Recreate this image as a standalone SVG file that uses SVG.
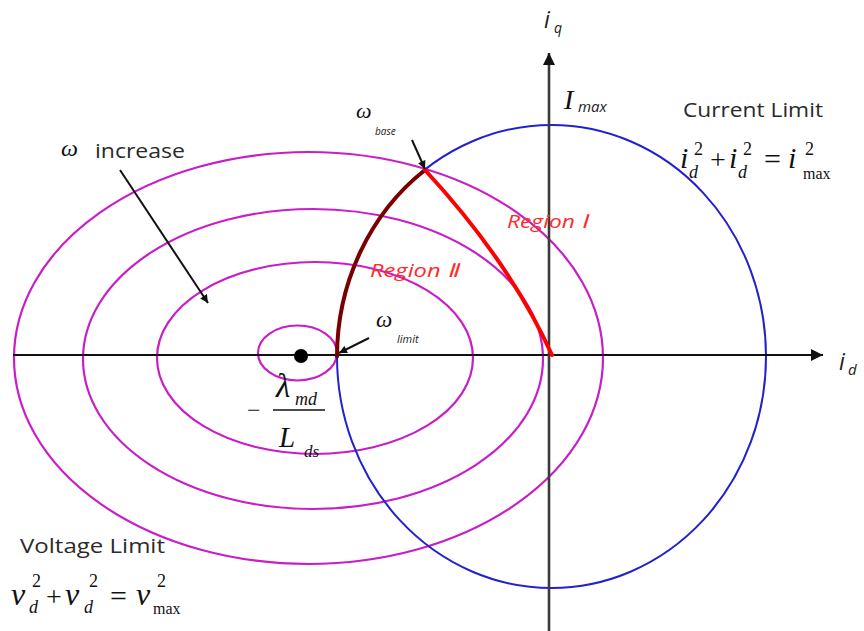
<svg xmlns="http://www.w3.org/2000/svg" width="864" height="631" viewBox="0 0 864 631">
<defs>
<style>
.ell{fill:none;stroke:#c81ec8;stroke-width:2.2}
.cur{fill:none;stroke:#2222cc;stroke-width:2}
.ax{fill:none;stroke:#111;stroke-width:2}
.ptr{fill:none;stroke:#111;stroke-width:2}
.lbl{font-family:"Open Sans","Liberation Sans",sans-serif;fill:#2a2a2a}
.reg{font-family:"Open Sans","Liberation Sans",sans-serif;font-style:italic;fill:#ff2a2a}
.m{font-family:"Liberation Serif","DejaVu Serif",serif;fill:#111}
.mi{font-family:"Liberation Serif","DejaVu Serif",serif;font-style:italic;fill:#111}
.si{font-family:"Open Sans","Liberation Sans",sans-serif;font-style:italic;fill:#222}
</style>
<marker id="axh" viewBox="0 0 10 10" refX="10" refY="5" markerWidth="13" markerHeight="12" markerUnits="userSpaceOnUse" orient="auto">
<path d="M0,0 L10,5 L0,10 z" fill="#111"/>
</marker>
<marker id="ph" viewBox="0 0 10 10" refX="10" refY="5" markerWidth="9" markerHeight="8" markerUnits="userSpaceOnUse" orient="auto">
<path d="M0,0 L10,5 L0,10 z" fill="#111"/>
</marker>
</defs>
<rect width="864" height="631" fill="#fff"/>

<g id="voltage-ellipses">
<ellipse class="ell" cx="308.5" cy="358" rx="294.5" ry="206"/>
<ellipse class="ell" cx="313" cy="359" rx="230" ry="150"/>
<ellipse class="ell" cx="315" cy="358" rx="158" ry="96"/>
<ellipse class="ell" cx="297.5" cy="353" rx="39.5" ry="27.5"/>
</g>

<g id="current-circle">
<ellipse class="cur" cx="551.5" cy="356.5" rx="214.5" ry="231.5"/>
</g>

<g id="axes">
<line class="ax" x1="13" y1="355" x2="823" y2="355" marker-end="url(#axh)"/>
<line x1="549" y1="631" x2="549" y2="53" stroke="#3a3a3a" stroke-width="2.6" marker-end="url(#axh)"/>
</g>

<g id="region-curves">
<path d="M337,356.5 A214.5,231.5 0 0 1 425,170" fill="none" stroke="#7a0000" stroke-width="4" stroke-linecap="round"/>
<path d="M425,170 Q510,262 552,355" fill="none" stroke="#ff0000" stroke-width="4" stroke-linecap="round"/>
</g>

<g id="center-point">
<circle cx="301" cy="356" r="7" fill="#000"/>
</g>

<g id="connectors">
<line class="ptr" x1="120" y1="170" x2="208" y2="303" marker-end="url(#ph)"/>
<line class="ptr" x1="412" y1="140" x2="425" y2="169" marker-end="url(#ph)"/>
<line class="ptr" x1="369" y1="338" x2="339" y2="353" marker-end="url(#ph)"/>
</g>

<g id="label-iq">
<text class="si" x="544" y="28" font-size="23">i</text>
<text class="si" x="554" y="33" font-size="14">q</text>
</g>
<g id="label-id">
<text class="si" x="839" y="370" font-size="23">i</text>
<text class="si" x="848" y="375" font-size="15">d</text>
</g>
<g id="label-imax">
<text class="mi" x="564" y="109" font-size="28">I</text>
<text class="si" x="578" y="112" font-size="15">max</text>
</g>

<g id="label-omega-increase">
<text class="mi" x="61" y="156" font-size="24">ω</text>
<text class="lbl" x="95" y="158" font-size="20" textLength="90" lengthAdjust="spacingAndGlyphs">increase</text>
</g>

<g id="label-omega-base">
<text class="mi" x="356" y="118" font-size="22">ω</text>
<text class="si" x="375" y="135" font-size="10">base</text>
</g>

<g id="label-omega-limit">
<text class="mi" x="376" y="327" font-size="23">ω</text>
<text class="si" x="397" y="343" font-size="11">limit</text>
</g>

<g id="label-regions">
<text class="reg" x="507" y="228" font-size="19" textLength="81" lengthAdjust="spacingAndGlyphs">Region Ⅰ</text>
<text class="reg" x="370" y="277" font-size="19" textLength="88" lengthAdjust="spacingAndGlyphs">Region Ⅱ</text>
</g>

<g id="label-fraction">
<text class="m" x="247" y="418" font-size="24">−</text>
<line x1="273" y1="410" x2="325" y2="410" stroke="#111" stroke-width="1.5"/>
<text class="mi" x="276" y="397" font-size="33">λ</text>
<text class="mi" x="295" y="405" font-size="18">md</text>
<text class="mi" x="279" y="447" font-size="29">L</text>
<text class="mi" x="304" y="457" font-size="17">ds</text>
</g>

<g id="label-current-limit">
<text class="lbl" x="683" y="117" font-size="20" textLength="140" lengthAdjust="spacingAndGlyphs">Current Limit</text>
<text class="mi" x="680" y="168" font-size="30">i</text>
<text class="m" x="694" y="155" font-size="18">2</text>
<text class="mi" x="689" y="178" font-size="18">d</text>
<text class="m" x="710" y="169" font-size="28">+</text>
<text class="mi" x="729" y="168" font-size="30">i</text>
<text class="m" x="743" y="155" font-size="18">2</text>
<text class="mi" x="738" y="178" font-size="18">d</text>
<text class="m" x="764" y="169" font-size="30">=</text>
<text class="mi" x="788" y="168" font-size="30">i</text>
<text class="m" x="805" y="155" font-size="18">2</text>
<text class="m" x="803" y="179" font-size="16">max</text>
</g>

<g id="label-voltage-limit">
<text class="lbl" x="20" y="553" font-size="20" textLength="145" lengthAdjust="spacingAndGlyphs">Voltage Limit</text>
<text class="mi" x="11" y="605" font-size="32">v</text>
<text class="m" x="32" y="587" font-size="18">2</text>
<text class="mi" x="29" y="613" font-size="18">d</text>
<text class="m" x="46" y="606" font-size="28">+</text>
<text class="mi" x="65" y="605" font-size="32">v</text>
<text class="m" x="89" y="587" font-size="18">2</text>
<text class="mi" x="84" y="613" font-size="18">d</text>
<text class="m" x="110" y="606" font-size="30">=</text>
<text class="mi" x="136" y="605" font-size="32">v</text>
<text class="m" x="157" y="587" font-size="18">2</text>
<text class="m" x="153" y="614" font-size="16">max</text>
</g>
</svg>
